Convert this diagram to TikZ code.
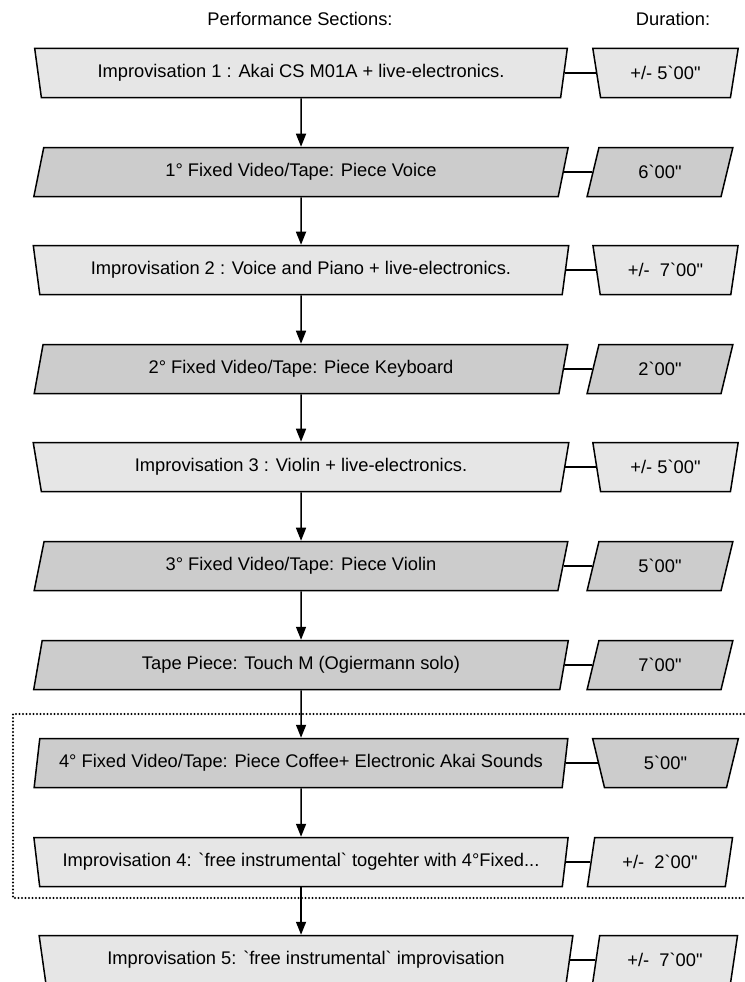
\documentclass[tikz,border=0pt]{standalone}
\usepackage{fontspec}
\setmainfont{Liberation Sans}[Ligatures=TeXOff]
\usetikzlibrary{shapes.geometric,arrows.meta}
\definecolor{lightbox}{HTML}{E6E6E6}
\definecolor{darkbox}{HTML}{CCCCCC}
\begin{document}
\begin{tikzpicture}[x=1pt,y=-1pt,
  basebox/.style={draw=black, line width=1.5pt, shape=trapezium, trapezium stretches=true,
    minimum height=49pt, inner sep=0pt, font=\fontsize{18.3}{21}\selectfont, text=black},
  trapbox/.style={basebox, trapezium left angle=107, trapezium right angle=107},
  parabox/.style={basebox, trapezium left angle=73, trapezium right angle=107},
  light/.style={fill=lightbox},
  dark/.style={fill=darkbox},
  mainw/.style={minimum width=536pt},
  durw/.style={minimum width=146pt},
  head/.style={font=\fontsize{18.3}{21}\selectfont, inner sep=0pt},
  conn/.style={line width=1.5pt},
  arr/.style={line width=1.5pt, -{Triangle[length=13pt,width=10pt]}},
  dotbox/.style={line width=2.2pt, dash pattern=on 0pt off 3.5pt, line cap=round}
]
\useasboundingbox (0,0) rectangle (744,982);

\node[head] (h1) at (300,19) {Performance Sections:};
\node[head] (h2) at (673,19) {Duration:};

% row 1
\node[trapbox, light, mainw] (m1) at (301,73) {Improvisation 1 : Akai CS M01A + live-electronics.};
\node[trapbox, light, durw] (d1) at (665.5,73) {+/- 5`00"};
% row 2
\node[parabox, dark, mainw] (m2) at (301,172) {1° Fixed Video/Tape: Piece Voice};
\node[parabox, dark, durw] (d2) at (660,172) {6`00"};
% row 3
\node[trapbox, light, mainw] (m3) at (301,270) {Improvisation 2 : Voice and Piano + live-electronics.};
\node[trapbox, light, durw] (d3) at (665.5,270) {+/-~ 7`00"};
% row 4
\node[parabox, dark, mainw] (m4) at (301,369) {2° Fixed Video/Tape: Piece Keyboard};
\node[parabox, dark, durw] (d4) at (660,369) {2`00"};
% row 5
\node[trapbox, light, mainw] (m5) at (301,467) {Improvisation 3 : Violin + live-electronics.};
\node[trapbox, light, durw] (d5) at (665.5,467) {+/- 5`00"};
% row 6
\node[parabox, dark, mainw] (m6) at (301,566) {3° Fixed Video/Tape: Piece Violin};
\node[parabox, dark, durw] (d6) at (660,566) {5`00"};
% row 7
\node[parabox, dark, mainw] (m7) at (301,665) {Tape Piece: Touch M (Ogiermann solo)};
\node[parabox, dark, durw] (d7) at (660,665) {7`00"};
% row 8
\node[parabox, dark, mainw] (m8) at (301,763) {4° Fixed Video/Tape: Piece Coffee+ Electronic Akai Sounds};
\node[trapbox, dark, durw] (d8) at (665.5,763) {5`00"};
% row 9
\node[trapbox, light, mainw] (m9) at (301,862) {Improvisation 4: `free instrumental` togehter with 4°Fixed...};
\node[parabox, light, durw] (d9) at (660,862) {+/-~ 2`00"};
% row 10
\node[trapbox, light, mainw] (m10) at (306,960) {Improvisation 5: `free instrumental` improvisation};
\node[parabox, light, durw] (d10) at (665,960) {+/-~ 7`00"};

% dotted group frame
\coordinate (g1) at (744,714);
\coordinate (g2) at (13,714);
\coordinate (g3) at (13,898);
\coordinate (g4) at (744,898);
\draw[dotbox] (g1) -- (g2) -- (g3) -- (g4);

% duration connectors
\foreach \i in {1,...,10} {
  \draw[conn] (m\i.east) -- (m\i.east -| d\i.west);
}

% flow arrows
\foreach \a/\b in {1/2,2/3,3/4,4/5,5/6,6/7,7/8,8/9} {
  \draw[arr] (m\a.south) -- (m\b.north);
}
\draw[arr] (m9.south) -- (m9.south |- m10.north);
\end{tikzpicture}
\end{document}
